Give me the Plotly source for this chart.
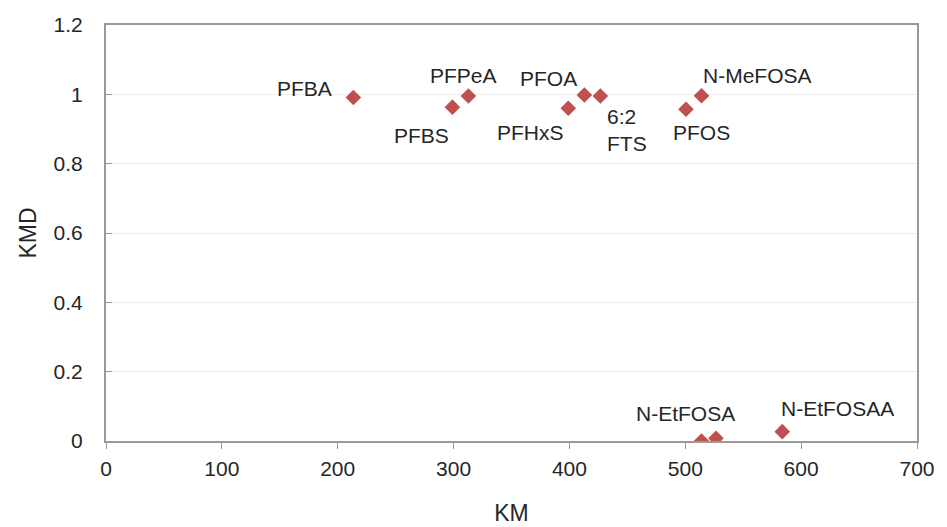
import plotly.graph_objects as go

# Kendrick mass (KM) and Kendrick mass defect (KMD) per compound
compounds = ["PFBA", "PFBS", "PFPeA", "PFHxS", "PFOA", "6:2<br>FTS", "PFOS",
             "N-MeFOSA", "N-EtFOSA", "", "N-EtFOSAA"]
km = [213.5, 299.0, 312.8, 399.0, 412.9, 426.7, 500.6, 514.0, 514.0, 526.5, 583.7]
kmd = [0.991, 0.963, 0.995, 0.960, 0.998, 0.995, 0.957, 0.996, 0.0, 0.008, 0.027]

# label offsets in pixels (x, y) relative to each marker
label_dx = [-49, -31, -5, -38, -36, 27, 16, 56, -16, 0, 55]
label_dy = [9, -28, 21, -24, 17, -34, -23, 20, 28, 0, 23]

x_ticks = [0, 100, 200, 300, 400, 500, 600, 700]
y_ticks = [0, 0.2, 0.4, 0.6, 0.8, 1, 1.2]
y_tick_text = ["0", "0.2", "0.4", "0.6", "0.8", "1", "1.2"]

font_family = "Liberation Sans, Arial, sans-serif"
text_color = "#262626"

fig = go.Figure()
fig.add_trace(go.Scatter(
    x=km, y=kmd, mode="markers",
    marker=dict(symbol="diamond", size=12, color="#C0504D"),
    hoverinfo="skip", showlegend=False,
))

for name, x, y, dx, dy in zip(compounds, km, kmd, label_dx, label_dy):
    if not name:
        continue
    fig.add_annotation(
        x=x, y=y, text=name, showarrow=False,
        xshift=dx, yshift=dy, align="left",
        font=dict(family=font_family, size=21, color=text_color),
    )

axis_common = dict(
    showline=True, linecolor="#9a9a9a", linewidth=2, mirror=True,
    tickfont=dict(family=font_family, size=21, color=text_color),
    zeroline=False, automargin=False,
)

fig.update_xaxes(
    range=[0, 700], tickvals=x_ticks, showgrid=False,
    ticks="outside", ticklen=6, tickcolor="#9a9a9a", tickwidth=1,
    ticklabelstandoff=2,
    title=dict(text="KM", font=dict(family=font_family, size=23, color=text_color),
               standoff=26),
    **axis_common,
)
fig.update_yaxes(
    range=[0, 1.2], tickvals=y_ticks, ticktext=y_tick_text,
    showgrid=True, gridcolor="#ececec", gridwidth=1,
    ticks="inside", ticklen=6, tickcolor="#9a9a9a", tickwidth=1,
    ticklabelstandoff=17,
    title=dict(text="KMD", font=dict(family=font_family, size=23, color=text_color),
               standoff=11),
    **axis_common,
)

fig.update_layout(
    width=947, height=527,
    margin=dict(l=106, r=30, t=25, b=86),
    plot_bgcolor="white", paper_bgcolor="white",
)

fig.write_html("out.html")
